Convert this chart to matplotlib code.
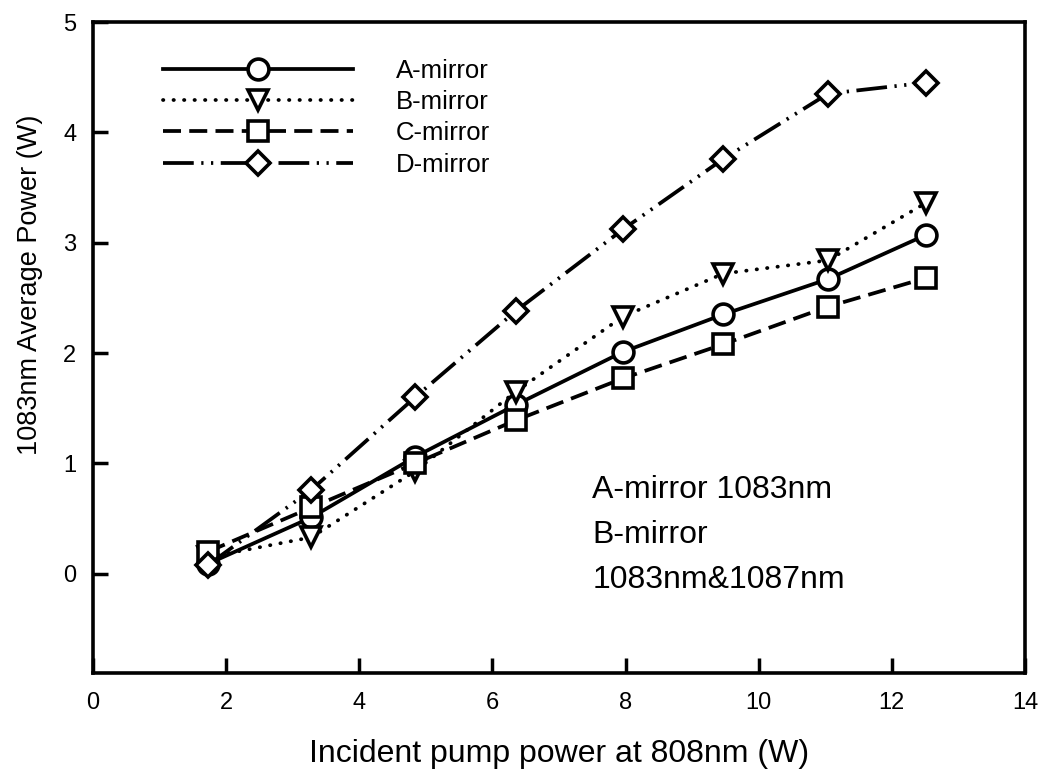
import matplotlib
matplotlib.use("Agg")
import matplotlib.pyplot as plt

plt.rcParams['font.family'] = ['Liberation Sans', 'DejaVu Sans']

# pump power (W) and output power (W)
pump = [1.73, 3.28, 4.84, 6.35, 7.96, 9.47, 11.04, 12.51]
a_mirror = [0.09, 0.51, 1.06, 1.53, 2.01, 2.35, 2.67, 3.07]
b_mirror = [0.15, 0.33, 0.93, 1.65, 2.33, 2.72, 2.84, 3.36]
c_mirror = [0.20, 0.60, 1.00, 1.39, 1.77, 2.08, 2.42, 2.68]
d_mirror = [0.08, 0.76, 1.60, 2.38, 3.12, 3.76, 4.35, 4.45]

labels = ['A-mirror', 'B-mirror', 'C-mirror', 'D-mirror']

fig = plt.figure(figsize=(10.42, 7.76), dpi=100)
ax = fig.add_axes([93 / 1042, 1 - 673 / 776, (1025 - 93) / 1042, (673 - 22) / 776])

lw = 2.7
common = dict(color='black', lw=lw, markerfacecolor='white', markeredgecolor='black',
              markeredgewidth=2.6)

ax.plot(pump, a_mirror, linestyle='-', marker='o', ms=15, label=labels[0], **common)
ax.plot(pump, b_mirror, linestyle=(0, (0.1, 2.7)), dash_capstyle='round',
        marker='v', ms=15, label=labels[1], **common)
ax.plot(pump, c_mirror, linestyle=(0, (4.8, 2.2)), marker='s', ms=14,
        label=labels[2], **common)
ax.plot(pump, d_mirror, linestyle=(0, (8.2, 2.0, 0.6, 2.0, 0.6, 2.0)),
        marker='D', ms=12, label=labels[3], **common)

ax.set_xlim(0, 14)
ax.set_ylim(-0.9, 5)
ax.set_xticks(range(0, 15, 2))
ax.set_yticks(range(0, 6))
ax.tick_params(direction='in', length=11, width=2.5, labelsize=17, pad=14)
ax.tick_params(axis='y', pad=12)
for s in ax.spines.values():
    s.set_linewidth(2.6)

ax.set_xlabel('Incident pump power at 808nm (W)', fontsize=23, labelpad=18)
ax.set_ylabel('1083nm Average Power (W)', fontsize=19.5)
ax.yaxis.set_label_coords(-0.054, 0.596)

ax.legend(loc='upper left', bbox_to_anchor=(0.061, 0.963), frameon=False,
          fontsize=18.5, handlelength=7.4, handletextpad=1.67, labelspacing=0.28,
          borderpad=0, numpoints=1)

ax.text(7.5, 0.89, 'A-mirror 1083nm\nB-mirror\n1083nm&1087nm', fontsize=23,
        va='top', ha='left', linespacing=1.65)

fig.savefig('out.png', dpi=100)
